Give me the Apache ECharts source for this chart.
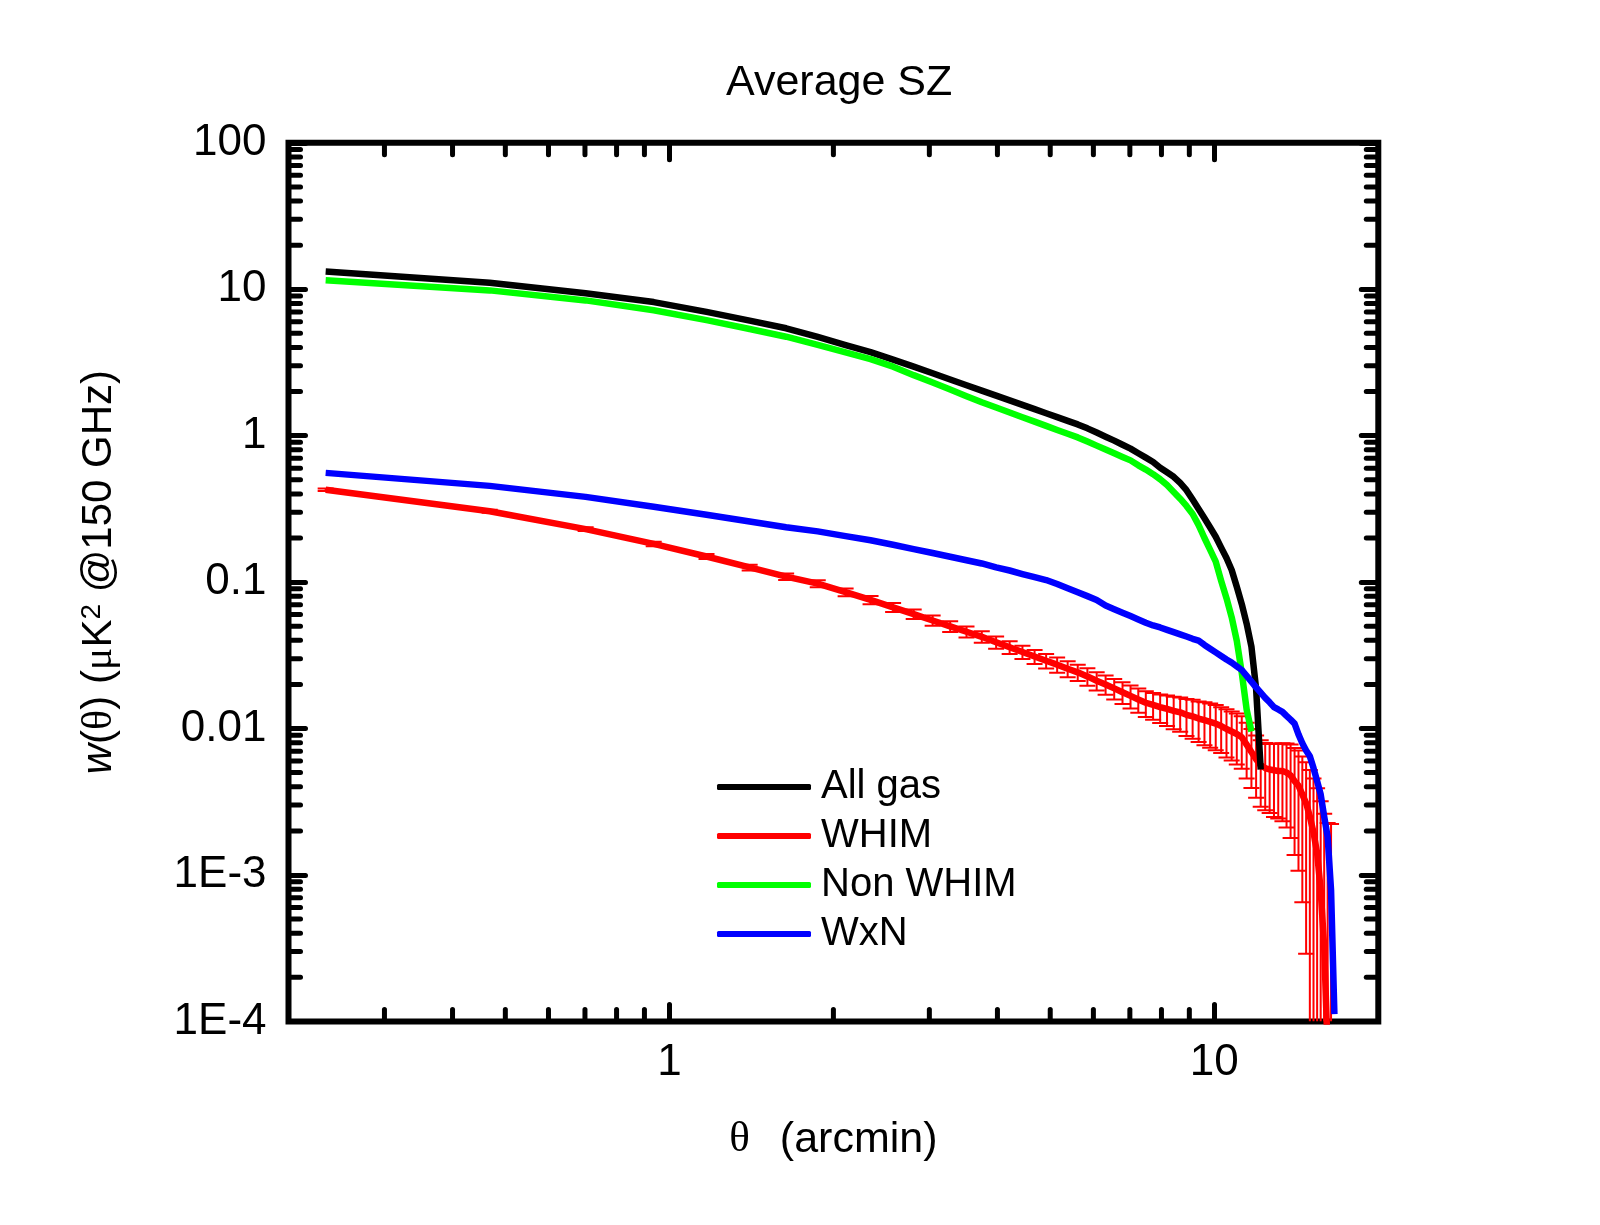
<!DOCTYPE html>
<html><head><meta charset="utf-8">
<script src="https://cdn.jsdelivr.net/npm/echarts@6/dist/echarts.min.js"></script>
<style>html,body{margin:0;padding:0;background:#fff}#c{width:1600px;height:1225px}</style>
</head><body><div id="c"></div>
<script>
// angular separation (arcmin)
const theta = [0.234,0.468,0.702,0.936,1.17,1.404,1.638,1.872,2.106,2.34,2.574,2.808,3.042,3.276,3.51,3.744,3.978,4.212,4.446,4.68,4.914,5.148,5.382,5.616,5.85,6.084,6.318,6.552,6.786,7.02,7.254,7.488,7.722,7.956,8.19,8.424,8.658,8.892,9.126,9.36,9.594,9.828,10.062,10.296,10.53,10.764,10.998,11.232,11.466,11.7,11.934,12.168,12.402,12.636,12.87,13.104,13.338,13.572,13.806,14.04,14.274,14.508,14.742,14.976,15.21,15.444,15.678,15.912,16.146,16.38,16.614];
const allGas = [13.21,11.09,9.38,8.17,7.01,6.10,5.41,4.73,4.16,3.72,3.31,2.96,2.67,2.42,2.21,2.03,1.875,1.742,1.622,1.517,1.422,1.340,1.262,1.194,1.122,1.050,0.984,0.925,0.867,0.815,0.759,0.708,0.661,0.604,0.562,0.524,0.476,0.424,0.366,0.316,0.273,0.236,0.204,0.172,0.146,0.121,0.0929,0.0708,0.0520,0.0363,0.0187,0.00525];
const whim = [0.4266,0.3048,0.2301,0.1824,0.1496,0.1259,0.1089,0.0977,0.0853,0.0755,0.0673,0.0604,0.0547,0.0499,0.0458,0.0423,0.0388,0.0359,0.0333,0.0310,0.0290,0.0273,0.0256,0.0242,0.0227,0.0212,0.0200,0.0188,0.0177,0.0167,0.0158,0.0150,0.0145,0.0140,0.0136,0.0132,0.0129,0.0124,0.0121,0.0117,0.0114,0.0111,0.0108,0.0104,0.00993,0.00955,0.00918,0.00871,0.00776,0.00692,0.00617,0.00562,0.00537,0.00525,0.00519,0.00513,0.00513,0.00501,0.00479,0.00437,0.00407,0.00355,0.00309,0.00251,0.00195,0.00141,0.00079,0.00032,0.000063,0.00003];
const whimErr = [0.0085,0.0076,0.0069,0.0064,0.0060,0.0057,0.0054,0.0054,0.0051,0.0049,0.0047,0.0045,0.0044,0.0042,0.0040,0.0038,0.0037,0.0036,0.0035,0.0034,0.0033,0.0033,0.0032,0.0031,0.0031,0.0030,0.0030,0.0030,0.0030,0.0030,0.0030,0.0030,0.0030,0.0031,0.0032,0.0033,0.0034,0.0035,0.0036,0.0036,0.0037,0.0037,0.0037,0.0036,0.0036,0.0035,0.0035,0.0034,0.0032,0.0030,0.0028,0.0027,0.0026,0.0026,0.0027,0.0027,0.0028,0.0029,0.0030,0.0030,0.0030,0.0029,0.0028,0.0027,0.0026,0.0025,0.0024,0.0023,0.0022,0.0022];
const nonWhim = [11.53,9.82,8.39,7.18,6.15,5.35,4.74,4.17,3.70,3.33,2.96,2.59,2.31,2.07,1.862,1.690,1.556,1.439,1.337,1.247,1.167,1.094,1.030,0.973,0.912,0.855,0.805,0.759,0.716,0.678,0.627,0.587,0.546,0.504,0.460,0.413,0.371,0.331,0.292,0.245,0.200,0.166,0.138,0.102,0.0776,0.0575,0.0398,0.0240,0.0135,0.00955];
const wxn = [0.557,0.454,0.382,0.327,0.288,0.259,0.237,0.222,0.206,0.193,0.180,0.168,0.158,0.149,0.141,0.134,0.126,0.120,0.1135,0.108,0.1033,0.0970,0.0908,0.0851,0.0802,0.0755,0.0692,0.0653,0.0618,0.0586,0.0556,0.0528,0.0506,0.0490,0.0472,0.0455,0.0440,0.0425,0.0410,0.0398,0.0372,0.0351,0.0331,0.0313,0.0296,0.0282,0.0266,0.0251,0.0229,0.0209,0.0191,0.0176,0.0162,0.0151,0.0140,0.0135,0.0130,0.0122,0.0115,0.0108,0.00912,0.00794,0.00708,0.00646,0.00537,0.00437,0.00355,0.00251,0.00182,0.00079,0.000112];

const seriesNames = ['All gas','WHIM','Non WHIM','WxN'];
const seriesColors = ['#000000','#ff0000','#00ff00','#0000ff'];
const yTickLabels = ['1E-4','1E-3','0.01','0.1','1','10','100']; // 10^-4 .. 10^2
const xTickLabels = ['1','10']; // 10^0, 10^1
const xMin = 0.2, xMax = 20, yMin = 1e-4, yMax = 100;

const FONT = 'Liberation Sans, Arial, sans-serif';
const SERIF = 'Liberation Serif, Times New Roman, serif';

function pair(xs, ys){ return ys.map((v,i)=>[xs[i], v]); }
const errData = whim.map((v,i)=>[theta[i], v - whimErr[i], v + whimErr[i]]);

function yFmt(v){
  const e = Math.round(Math.log10(v));
  if (Math.abs(Math.log10(v) - e) > 1e-6) return '';
  return yTickLabels[e + 4] || '';
}
function xFmt(v){
  const e = Math.round(Math.log10(v));
  if (Math.abs(Math.log10(v) - e) > 1e-6) return '';
  return xTickLabels[e] || '';
}

const tickStyle = {color:'#000', width:5, cap:'round'};
const G = {left:288.5, top:142.8, width:1089.8, height:878.6};

const chart = echarts.init(document.getElementById('c'), null, {renderer:'canvas'});
const lineSeries = (name, data, color, z) => ({
  name, type:'line', data, symbol:'none', smooth:false, z,
  lineStyle:{color, width:6.5, join:'round'}, itemStyle:{color},
  clip:true, animation:false
});

chart.setOption({
  animation:false,
  backgroundColor:'#ffffff',
  title:{text:'Average SZ', left:721, top:57, textStyle:{fontSize:43, fontWeight:'normal', fontFamily:FONT, color:'#000'}},
  grid:{...G, show:true, borderColor:'#000', borderWidth:6, containLabel:false},
  legend:{
    data:seriesNames, orient:'vertical', left:717, top:765, padding:0, itemGap:5,
    itemWidth:94, itemHeight:6, icon:'roundRect',
    textStyle:{fontSize:40, fontFamily:FONT, color:'#000', lineHeight:44, padding:[0,0,0,5]}
  },
  xAxis:[
    {type:'log', logBase:10, min:xMin, max:xMax, position:'bottom',
     axisLine:{show:false}, splitLine:{show:false},
     axisTick:{inside:true, length:17, lineStyle:tickStyle},
     axisLabel:{formatter:xFmt, showMinLabel:false, showMaxLabel:false, fontSize:44, fontFamily:FONT, color:'#000', margin:19},
     name:'{g|θ}(arcmin)', nameLocation:'middle', nameGap:97,
     nameTextStyle:{fontSize:43, fontFamily:FONT, color:'#000', rich:{g:{fontSize:43, fontFamily:SERIF, color:'#000', padding:[0,30,0,0]}}}
    },
    {type:'log', logBase:10, min:xMin, max:xMax, position:'top',
     axisLine:{show:false}, splitLine:{show:false},
     axisTick:{inside:true, length:17, lineStyle:tickStyle}, axisLabel:{show:false}}
  ],
  yAxis:[
    {type:'log', logBase:10, min:yMin, max:yMax, position:'left',
     axisLine:{show:false}, splitLine:{show:false},
     axisTick:{inside:true, length:17, lineStyle:tickStyle},
     axisLabel:{formatter:yFmt, fontSize:44, fontFamily:FONT, color:'#000', margin:22},
     name:'{i|w}({g|θ}) ({g|μ}K{sup|2} @150 GHz)', nameLocation:'middle', nameGap:168,
     nameTextStyle:{fontSize:42, fontFamily:FONT, color:'#000', padding:[0,0,0,20], rich:{
       i:{fontSize:42, fontFamily:FONT, fontStyle:'italic', color:'#000'},
       g:{fontSize:42, fontFamily:SERIF, color:'#000'},
       sup:{fontSize:28, fontFamily:FONT, color:'#000', verticalAlign:'top'}
     }}
    },
    {type:'log', logBase:10, min:yMin, max:yMax, position:'right',
     axisLine:{show:false}, splitLine:{show:false},
     axisTick:{inside:true, length:17, lineStyle:tickStyle}, axisLabel:{show:false}}
  ],
  series:[
    {name:'WHIM errors', type:'custom', xAxisIndex:0, yAxisIndex:0, z:2, clip:true,
     data:errData, encode:{x:0, y:[1,2]},
     renderItem:function(params, api){
       const cs = params.coordSys;
       const top = cs.y, bottom = cs.y + cs.height;
       const x = api.value(0), lo = api.value(1), hi = api.value(2);
       const pHi = api.coord([x, hi]);
       const px = pHi[0];
       let yHi = pHi[1];
       let yLo = lo > 0 ? api.coord([x, lo])[1] : bottom + 10;
       const st = {stroke:'#ff0000', lineWidth:2};
       const hw = 8;
       const ch = [];
       const y1 = Math.max(yHi, top), y2 = Math.min(yLo, bottom);
       ch.push({type:'line', shape:{x1:px, y1:y1, x2:px, y2:y2}, style:st});
       if (yHi >= top) ch.push({type:'line', shape:{x1:px-hw, y1:yHi, x2:px+hw, y2:yHi}, style:st});
       if (yLo <= bottom) ch.push({type:'line', shape:{x1:px-hw, y1:yLo, x2:px+hw, y2:yLo}, style:st});
       return {type:'group', children:ch};
     }
    },
    lineSeries('WHIM', pair(theta, whim), seriesColors[1], 3),
    lineSeries('All gas', pair(theta, allGas), seriesColors[0], 4),
    lineSeries('Non WHIM', pair(theta, nonWhim), seriesColors[2], 4),
    lineSeries('WxN', pair(theta, wxn), seriesColors[3], 4)
  ]
});

// minor ticks on log axes, positioned through the axes' own scales
function minorValues(lo, hi){
  const out = [];
  for (let d = Math.floor(Math.log10(lo)); d <= Math.ceil(Math.log10(hi)); d++){
    for (let k = 2; k <= 9; k++){
      const v = k * Math.pow(10, d);
      if (v > lo * 1.0001 && v < hi * 0.9999) out.push(v);
    }
  }
  return out;
}
const gl = [];
const mStyle = {stroke:'#000', lineWidth:5, lineCap:'round'};
const L = 12;
const gTop = G.top, gBot = G.top + G.height, gLeft = G.left, gRight = G.left + G.width;
minorValues(xMin, xMax).forEach(v=>{
  const px = chart.convertToPixel({xAxisIndex:0}, v);
  gl.push({type:'line', shape:{x1:px, y1:gBot, x2:px, y2:gBot-L}, style:mStyle, z:5});
  gl.push({type:'line', shape:{x1:px, y1:gTop, x2:px, y2:gTop+L}, style:mStyle, z:5});
});
minorValues(yMin, yMax).forEach(v=>{
  const py = chart.convertToPixel({yAxisIndex:0}, v);
  gl.push({type:'line', shape:{x1:gLeft, y1:py, x2:gLeft+L, y2:py}, style:mStyle, z:5});
  gl.push({type:'line', shape:{x1:gRight, y1:py, x2:gRight-L, y2:py}, style:mStyle, z:5});
});
chart.setOption({graphic:gl});
</script>
</body></html>
